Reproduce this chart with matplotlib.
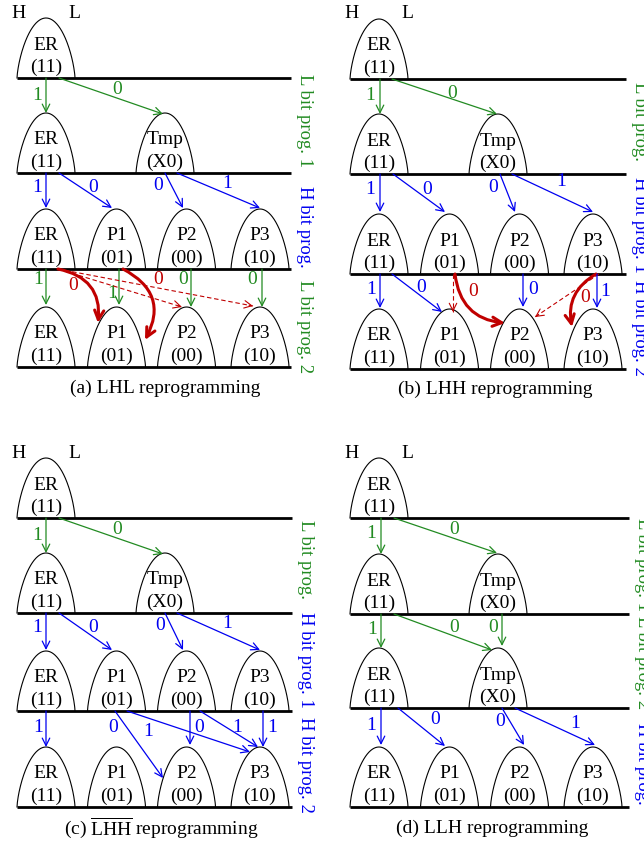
import matplotlib
matplotlib.use("Agg")
import matplotlib.pyplot as plt
from matplotlib.patches import FancyArrowPatch
import numpy as np

plt.rcParams['font.family'] = ['Liberation Serif', 'DejaVu Serif']
plt.rcParams['mathtext.fontset'] = 'custom'
plt.rcParams['mathtext.rm'] = 'Liberation Serif'
plt.rcParams['mathtext.it'] = 'Liberation Serif:italic'

# ---------------- data ----------------
STATES = ["ER", "P1", "P2", "P3", "Tmp"]
CODES = ["(11)", "(01)", "(00)", "(10)", "(X0)"]
ER, P1, P2, P3, TMP = 0, 1, 2, 3, 4

CAPTIONS = ["(a) LHL reprogramming",
            "(b) LHH reprogramming",
            r"(c) $\overline{\mathrm{LHH}}$ reprogramming",
            "(d) LLH reprogramming"]

STAGE_LABELS = [["L bit prog. 1", "H bit prog.", "L bit prog. 2"],
                ["L bit prog.", "H bit prog. 1", "H bit prog. 2"],
                ["L bit prog.", "H bit prog. 1", "H bit prog. 2"],
                ["L bit prog. 1", "L bit prog. 2", "H bit prog."]]

ROWS = [[[ER], [ER, TMP], [ER, P1, P2, P3], [ER, P1, P2, P3]],
        [[ER], [ER, TMP], [ER, P1, P2, P3], [ER, P1, P2, P3]],
        [[ER], [ER, TMP], [ER, P1, P2, P3], [ER, P1, P2, P3]],
        [[ER], [ER, TMP], [ER, TMP], [ER, P1, P2, P3]]]

# transitions: (stage, source, target, bit, kind)  kind: n=normal, c=reprogram curve, d=dashed
TRANS = [
    [(0, ER, ER, "1", "n"), (0, ER, TMP, "0", "n"),
     (1, ER, ER, "1", "n"), (1, ER, P1, "0", "n"), (1, TMP, P2, "0", "n"), (1, TMP, P3, "1", "n"),
     (2, ER, ER, "1", "n"), (2, P1, P1, "1", "n"), (2, P2, P2, "0", "n"), (2, P3, P3, "0", "n"),
     (2, ER, P1, "0", "c"), (2, P1, P1, "0", "c"), (2, ER, P2, "", "d"), (2, ER, P3, "", "d")],
    [(0, ER, ER, "1", "n"), (0, ER, TMP, "0", "n"),
     (1, ER, ER, "1", "n"), (1, ER, P1, "0", "n"), (1, TMP, P2, "0", "n"), (1, TMP, P3, "1", "n"),
     (2, ER, ER, "1", "n"), (2, ER, P1, "0", "n"), (2, P1, P1, "", "d"), (2, P1, P2, "0", "c"),
     (2, P2, P2, "0", "n"), (2, P3, P2, "", "d"), (2, P3, P3, "0", "c"), (2, P3, P3, "1", "n")],
    [(0, ER, ER, "1", "n"), (0, ER, TMP, "0", "n"),
     (1, ER, ER, "1", "n"), (1, ER, P1, "0", "n"), (1, TMP, P2, "0", "n"), (1, TMP, P3, "1", "n"),
     (2, ER, ER, "1", "n"), (2, P1, P2, "0", "n"), (2, P1, P3, "1", "n"), (2, P2, P2, "0", "n"),
     (2, P2, P3, "1", "n"), (2, P3, P3, "1", "n")],
    [(0, ER, ER, "1", "n"), (0, ER, TMP, "0", "n"),
     (1, ER, ER, "1", "n"), (1, ER, TMP, "0", "n"), (1, TMP, TMP, "0", "n"),
     (2, ER, ER, "1", "n"), (2, ER, P1, "0", "n"), (2, TMP, P2, "0", "n"), (2, TMP, P3, "1", "n")],
]

# ---------------- layout ----------------
PANEL_LEFT = [17, 350, 17, 350]
PANEL_WIDTH = [274, 276, 275, 279]
BASELINES = [[78, 173, 269, 367], [79, 174, 274, 369],
             [518, 613, 711, 807], [518, 614, 708, 807]]
LABEL_TOPS = [[74, 186, 280], [82, 177, 280], [520, 612, 717], [518, 616, 723]]
CAPTION_POS = [(165, 388), (495, 389), (161, 828), (492, 828)]
COLX = [29, 99.5, 169.5, 243, 148]
BUMP_H, BUMP_W = 60, 29

# geometry per transition: (x0, x1, end height above target baseline, label x, label dy, rad)
GEOM = [
    [(29, 29, 60, 20, 17, 0), (42, 146, 59, 100, 12, 0),
     (29, 29, 61, 20, 15, 0), (42, 95, 61, 76, 14, 0), (148, 166, 61, 141, 13, 0), (160, 243, 61, 210, 10, 0),
     (29, 29, 62, 21, 11, 0), (102, 102, 62, 95, 24, 0), (174, 174, 60, 166, 11, 0), (245, 245, 60, 235, 11, 0),
     (41, 81, 44, 56, 17, -0.45), (106, 128, 27, 141, 10, -0.5), (41, 165, 60, 0, 0, 0), (41, 236, 61, 0, 0, 0)],
    [(30, 30, 60, 20, 16, 0), (42, 147, 60, 102, 14, 0),
     (30, 30, 62, 20, 16, 0), (43, 95, 62, 77, 16, 0), (150, 165, 62, 143, 14, 0), (162, 243, 62, 211, 8, 0),
     (30, 30, 61, 21, 16, 0), (42, 92, 57, 71, 14, 0), (103, 103, 57, 0, 0, 0), (105, 155, 46, 123, 18, 0.4),
     (173, 173, 62, 183, 16, 0), (249, 185, 52, 0, 0, 0), (246, 222, 42, 235, 23, 0.35), (247, 247, 61, 255, 18, 0)],
    [(29, 29, 60, 20, 17, 0), (42, 146, 59, 100, 12, 0),
     (29, 29, 61, 20, 15, 0), (42, 95, 61, 76, 15, 0), (148, 166, 61, 143, 12, 0), (160, 243, 61, 210, 10, 0),
     (29, 29, 60, 21, 17, 0), (98, 146, 29, 96, 17, 0), (110, 233, 55, 131, 21, 0), (173, 173, 62, 182, 17, 0),
     (183, 241, 60, 220, 16, 0), (246, 246, 60, 255, 17, 0)],
    [(31, 31, 60, 21, 15, 0), (44, 147, 61, 104, 12, 0),
     (31, 31, 60, 22, 16, 0), (44, 142, 58, 104, 13, 0), (152, 152, 62, 143, 13, 0),
     (31, 31, 62, 21, 17, 0), (48, 95, 61, 85, 12, 0), (152, 174, 62, 150, 14, 0), (165, 245, 62, 225, 16, 0)],
]

GREEN = '#228B22'
BLUE = '#0000F0'
RED = '#C00000'
FS = 14

fig = plt.figure(figsize=(6.44, 8.42), dpi=100)
ax = fig.add_axes([0, 0, 1, 1])
ax.set_xlim(0, 644)
ax.set_ylim(842, 0)
ax.axis('off')


def bump(cx, base, state):
    u = np.linspace(-1, 1, 301)
    y = base - BUMP_H * np.clip(1 - u ** 2, 0, None) ** 0.7
    ax.plot(cx + BUMP_W * u, y, color='black', lw=0.8, zorder=2)
    ax.text(cx, base - 33, STATES[state], ha='center', va='center', fontsize=FS, zorder=3)
    ax.text(cx, base - 11, CODES[state], ha='center', va='center', fontsize=FS, zorder=3)


def arrow(p0, p1, color, lw=0.9, rad=0.0, ms=9, style='->,head_length=0.6,head_width=0.3'):
    a = FancyArrowPatch(p0, p1, arrowstyle=style,
                        connectionstyle=f'arc3,rad={rad}', color=color, lw=lw,
                        shrinkA=0, shrinkB=0, mutation_scale=ms, zorder=4)
    ax.add_patch(a)


for p in range(4):
    left = PANEL_LEFT[p]
    bl = BASELINES[p]
    width = PANEL_WIDTH[p]
    for r, row in enumerate(ROWS[p]):
        for s in row:
            bump(left + COLX[s], bl[r], s)
        if r > 0 or True:
            ax.plot([left, left + width], [bl[r], bl[r]], color='black', lw=2.0,
                    solid_capstyle='butt', zorder=3)
    ax.text(left + 2, bl[0] - 65, "H", ha='center', va='center', fontsize=FS)
    ax.text(left + 57, bl[0] - 65, "L", ha='center', va='center', fontsize=FS)
    for k, lab in enumerate(STAGE_LABELS[p]):
        col = GREEN if lab.startswith("L") else BLUE
        ax.text(left + width + 14, LABEL_TOPS[p][k], lab, rotation=-90, ha='center',
                va='top', fontsize=13.5, color=col)
    cx, cy = CAPTION_POS[p]
    ax.text(cx, cy, CAPTIONS[p], ha='center', va='center', fontsize=FS)

    for (stage, src, dst, bit, kind), (x0, x1, h1, lx, ldy, rad) in zip(TRANS[p], GEOM[p]):
        y0 = bl[stage]
        y1 = bl[stage + 1] - h1
        p0 = (left + x0, y0)
        p1 = (left + x1, y1)
        scol = GREEN if STAGE_LABELS[p][stage].startswith("L") else BLUE
        if kind == 'n':
            arrow(p0, p1, scol)
            ax.text(left + lx, y0 + ldy, bit, ha='center', va='center', fontsize=FS, color=scol)
        elif kind == 'c':
            arrow(p0, p1, RED, lw=2.2, rad=rad, ms=11)
            ax.text(left + lx, y0 + ldy, bit, ha='center', va='center', fontsize=FS, color=RED)
        else:
            ax.plot([p0[0], p1[0]], [p0[1], p1[1]], color=RED, lw=0.8, ls=(0, (4, 2.5)), zorder=4)
            d = np.array(p1) - np.array(p0)
            d = d / np.hypot(*d)
            arrow(tuple(np.array(p1) - 4 * d), p1, RED, lw=0.8)

fig.savefig("out.png", dpi=100)
